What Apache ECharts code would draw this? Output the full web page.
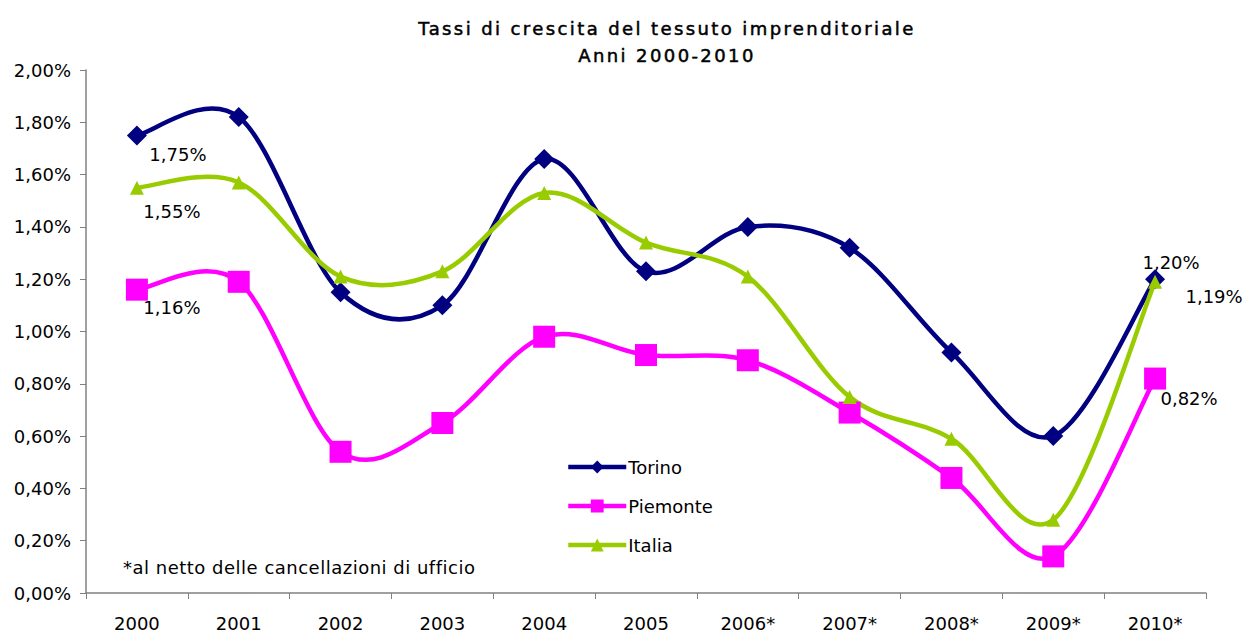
<!DOCTYPE html>
<html><head><meta charset="utf-8">
<script src="https://cdn.jsdelivr.net/npm/echarts@6/dist/echarts.min.js"></script>
<style>html,body{margin:0;padding:0;background:#fff}#c{width:1243px;height:634px}</style>
</head><body><div id="c"></div>
<script>
const categories = ['2000','2001','2002','2003','2004','2005','2006*','2007*','2008*','2009*','2010*'];
const torino   = [1.75, 1.82, 1.15, 1.10, 1.66, 1.23, 1.40, 1.32, 0.92, 0.60, 1.20];
const piemonte = [1.16, 1.19, 0.54, 0.65, 0.98, 0.91, 0.89, 0.69, 0.44, 0.14, 0.82];
const italia   = [1.55, 1.57, 1.21, 1.23, 1.53, 1.34, 1.21, 0.75, 0.59, 0.28, 1.19];
const seriesNames = ['Torino', 'Piemonte', 'Italia'];
const colors = ['#000080', '#FF00FF', '#99CC00'];
const titleLines = ['Tassi di crescita del tessuto imprenditoriale', 'Anni 2000-2010'];
const noteText = '*al netto delle cancellazioni di ufficio';

const FONT = 'DejaVu Sans';
const fmt = v => v.toFixed(2).replace('.', ',') + '%';

function withLabels(arr, labelOffsets) {
  return arr.map((v, i) => {
    const off = labelOffsets[i];
    if (!off) return v;
    return { value: v, label: { show: true, position: 'inside', offset: off, formatter: p => fmt(p.value), color: '#000', fontSize: 18, fontFamily: FONT } };
  });
}

// Excel-like smoothed curve (Catmull-Rom / 6) drawn through the axis scales
function curveSeries(arr, color, z) {
  return {
    type: 'custom', name: '_' + color, z: z, silent: true,
    data: arr.map((v, i) => [i, v]),
    encode: { x: 0, y: 1 },
    renderItem: function (params, api) {
      const i = params.dataIndex, n = arr.length;
      if (i >= n - 1) return null;
      const P = j => { j = Math.max(0, Math.min(n - 1, j)); return api.coord([j, arr[j]]); };
      const p0 = P(i - 1), p1 = P(i), p2 = P(i + 1), p3 = P(i + 2);
      return {
        type: 'bezierCurve',
        shape: {
          x1: p1[0], y1: p1[1], x2: p2[0], y2: p2[1],
          cpx1: p1[0] + (p2[0] - p0[0]) / 6, cpy1: p1[1] + (p2[1] - p0[1]) / 6,
          cpx2: p2[0] - (p3[0] - p1[0]) / 6, cpy2: p2[1] - (p3[1] - p1[1]) / 6
        },
        style: { stroke: color, lineWidth: 4.5, fill: null, lineCap: 'round' }
      };
    }
  };
}

function markerSeries(name, arr, color, symbol, size, offsets, z) {
  return {
    name: name, type: 'line', data: withLabels(arr, offsets), z: z,
    symbol: symbol, symbolSize: size, showAllSymbol: true,
    itemStyle: { color: color }, lineStyle: { width: 0, color: color }
  };
}

const el = document.getElementById('c');
const chart = echarts.init(el, null, { renderer: 'svg' });
chart.setOption({
  animation: false,
  backgroundColor: '#fff',
  title: {
    text: titleLines.join('\n'),
    left: 662, textAlign: 'center', top: 10,
    textStyle: { fontFamily: FONT, fontSize: 18, fontWeight: 'normal', color: '#000', lineHeight: 27,
                 textBorderColor: '#000', textBorderWidth: 0.5 }
  },
  grid: { left: 86, right: 37, top: 70, bottom: 41 },
  legend: {
    orient: 'vertical', left: 561, top: 453, itemGap: 21, padding: 5,
    itemWidth: 58, itemHeight: 16,
    textStyle: { fontFamily: FONT, fontSize: 18, color: '#000', padding: [0, 0, 0, -3] },
    data: seriesNames.map((nm, k) => ({ name: nm, lineStyle: { width: 4.5, color: colors[k], opacity: 1 } }))
  },
  xAxis: {
    type: 'category', data: categories, boundaryGap: true,
    axisLine: { lineStyle: { color: '#808080', width: 1.5 } },
    axisTick: { show: true, length: 6, lineStyle: { color: '#808080' } },
    axisLabel: { fontFamily: FONT, fontSize: 18, color: '#000', margin: 21 }
  },
  yAxis: {
    type: 'value', min: 0, max: 2, interval: 0.2,
    axisLine: { show: true, lineStyle: { color: '#808080', width: 1.5 } },
    axisTick: { show: true, length: 6, lineStyle: { color: '#808080' } },
    splitLine: { show: false },
    axisLabel: { fontFamily: FONT, fontSize: 18, color: '#000', margin: 15, formatter: v => fmt(v) }
  },
  graphic: [{
    type: 'text', left: 123, top: 558,
    style: { text: noteText, font: '18px "' + FONT + '"', fill: '#000' }
  }],
  series: [
    curveSeries(torino, colors[0], 2),
    curveSeries(piemonte, colors[1], 2),
    curveSeries(italia, colors[2], 2),
    markerSeries('Torino', torino, colors[0], 'diamond', 20, {0: [41, 19], 10: [16, -17]}, 4),
    markerSeries('Piemonte', piemonte, colors[1], 'rect', 22, {0: [35, 18], 10: [34, 20]}, 3),
    markerSeries('Italia', italia, colors[2], 'triangle', 14, {0: [35, 24], 10: [59, 15]}, 5)
  ]
});

// widen the title's letter spacing like the original
function spaceTitle() {
  el.querySelectorAll('text').forEach(t => {
    const s = t.textContent;
    if (titleLines.indexOf(s) >= 0) { t.style.letterSpacing = '2.4px'; }
    else if (s === noteText) { t.style.letterSpacing = '0.5px'; }
  });
}
chart.on('finished', spaceTitle);
spaceTitle();
</script></body></html>
